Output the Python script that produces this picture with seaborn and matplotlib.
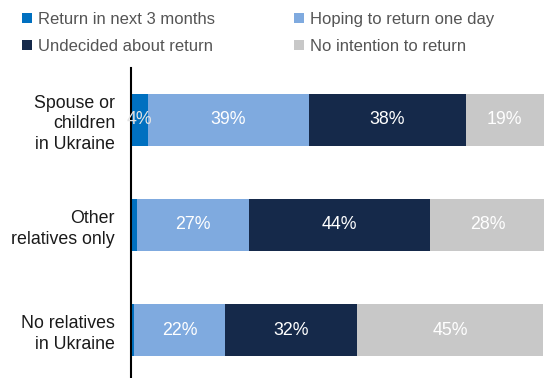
import matplotlib
matplotlib.use("Agg")
import matplotlib.pyplot as plt
from matplotlib.patches import Patch
import numpy as np
import pandas as pd
import seaborn as sns

# Survey groups (rows) and the share of respondents per return intention
groups = ["Spouse or\nchildren\nin Ukraine", "Other\nrelatives only", "No relatives\nin Ukraine"]
series_names = ["Return in next 3 months", "Hoping to return one day",
                "Undecided about return", "No intention to return"]
return_3m = [4, 1.5, 0.8]
hoping = [39, 27, 22]
undecided = [38, 44, 32]
no_intention = [19, 28, 45]
value_labels = [["4%", "39%", "38%", "19%"],
                ["", "27%", "44%", "28%"],
                ["", "22%", "32%", "45%"]]

colors = ["#0070C0", "#7FAADF", "#15294A", "#C8C8C8"]
label_colors = ["#E4E4E4", "white", "white", "white"]

sns.set_theme(style="white")
plt.rcParams["font.family"] = ["Liberation Sans", "DejaVu Sans"]

series = [return_3m, hoping, undecided, no_intention]
cum = np.cumsum(np.array(series), axis=0)  # right edge of each segment

fig = plt.figure(figsize=(5.44, 3.78), dpi=100)
ax = fig.add_axes([131 / 544, 0.0, 1 - 131 / 544, 1 - 68 / 378])

# Stacked bars: draw cumulative totals back to front so each layer shows its segment
for i in range(len(series) - 1, -1, -1):
    df = pd.DataFrame({"group": groups, "total": cum[i]})
    sns.barplot(data=df, x="total", y="group", orient="h", color=colors[i],
                saturation=1, width=0.5, ax=ax, linewidth=0)

# Centered value labels
for r in range(len(groups)):
    for i in range(len(series)):
        txt = value_labels[r][i]
        if not txt:
            continue
        left = cum[i][r] - series[i][r]
        ax.text(left + series[i][r] / 2, r, txt, ha="center", va="center",
                color=label_colors[i], fontsize=12.8)

ax.set_xlim(0, 100)
ax.set_ylim(2.457, -0.495)
ax.set_xlabel("")
ax.set_ylabel("")
ax.set_xticks([])
ax.tick_params(axis="y", length=0, pad=11.5, labelsize=12.8, labelcolor="#1a1a1a")
for lbl in ax.get_yticklabels():
    lbl.set_horizontalalignment("right")
    lbl.set_multialignment("right")
    lbl.set_linespacing(1.3)
for s in ["top", "right", "bottom"]:
    ax.spines[s].set_visible(False)
ax.spines["left"].set_color("black")
ax.spines["left"].set_linewidth(1.5)

handles = [Patch(facecolor=c, edgecolor="none") for c in colors]
order = [0, 2, 1, 3]
fig.legend([handles[k] for k in order], [series_names[k] for k in order],
           ncol=2, loc="upper left", bbox_to_anchor=(15 / 544, 1 - 5 / 378),
           frameon=False, fontsize=12, handlelength=0.6, handleheight=0.6,
           handletextpad=0.4, columnspacing=4.7, labelspacing=0.72,
           labelcolor="#555555", borderaxespad=0)

fig.savefig("out.png", dpi=100)
